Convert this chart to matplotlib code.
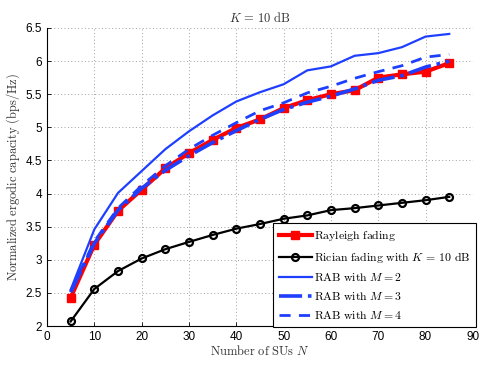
import matplotlib
matplotlib.use('Agg')
import matplotlib.pyplot as plt

plt.rcParams['mathtext.fontset'] = 'cm'
plt.rcParams['font.family'] = ['Liberation Sans', 'DejaVu Sans']

# number of SUs
n_sus = [5, 10, 15, 20, 25, 30, 35, 40, 45, 50, 55, 60, 65, 70, 75, 80, 85]

rayleigh = [2.43, 3.23, 3.74, 4.06, 4.38, 4.61, 4.81, 4.99, 5.12, 5.29, 5.41, 5.50, 5.56, 5.75, 5.80, 5.84, 5.97]
rician = [2.07, 2.56, 2.83, 3.02, 3.16, 3.27, 3.375, 3.47, 3.54, 3.62, 3.67, 3.75, 3.78, 3.82, 3.86, 3.90, 3.95]
rab_m2 = [2.55, 3.46, 4.01, 4.34, 4.67, 4.94, 5.18, 5.39, 5.53, 5.65, 5.86, 5.92, 6.08, 6.12, 6.21, 6.37, 6.41]
rab_m3 = [2.51, 3.25, 3.75, 4.08, 4.35, 4.57, 4.77, 4.95, 5.12, 5.27, 5.38, 5.47, 5.58, 5.71, 5.78, 5.91, 6.00]
rab_m4 = [2.53, 3.28, 3.78, 4.12, 4.42, 4.67, 4.88, 5.07, 5.25, 5.37, 5.52, 5.62, 5.74, 5.84, 5.93, 6.06, 6.10]

xticks = [0, 10, 20, 30, 40, 50, 60, 70, 80, 90]
yticks = [2, 2.5, 3, 3.5, 4, 4.5, 5, 5.5, 6, 6.5]

blue = '#1f3fff'

fig = plt.figure(figsize=(4.85, 3.68), dpi=100)
ax = fig.add_axes([0.097, 0.114, 0.878, 0.81])

ax.plot(n_sus, rayleigh, '-s', color='red', lw=3, ms=6, mfc='red', mec='red',
        label=r'$\mathrm{Rayleigh\ fading}$', zorder=3)
ax.plot(n_sus, rician, '-o', color='black', lw=1.6, ms=5, mfc='none', mec='black', mew=1.6,
        label=r'$\mathrm{Rician\ fading\ with}\ K\,=\,10\ \mathrm{dB}$', zorder=3)
ax.plot(n_sus, rab_m2, '-', color=blue, lw=1.6, label=r'$\mathrm{RAB\ with}\ M=2$', zorder=4)
ax.plot(n_sus, rab_m3, '-.', color=blue, lw=2.6, label=r'$\mathrm{RAB\ with}\ M=3$', zorder=4)
ax.plot(n_sus, rab_m4, '--', color=blue, lw=2.0, dashes=(4, 3), label=r'$\mathrm{RAB\ with}\ M=4$', zorder=4)

ax.set_xlim(0, 90)
ax.set_ylim(2, 6.5)
ax.set_xticks(xticks)
ax.set_yticks(yticks)
ax.set_yticklabels([('%g' % v) for v in yticks])
ax.tick_params(direction='in', labelsize=8.5, length=3, width=0.6)
ax.grid(True, linestyle=(0, (1, 2.5)), color='#a0a0a0', lw=0.7)
ax.spines['top'].set_visible(False)
ax.spines['right'].set_visible(False)
for s in ['left', 'bottom']:
    ax.spines[s].set_linewidth(0.8)

ax.set_xlabel(r'$\mathrm{Number\ of\ SUs}\ N$', fontsize=9, labelpad=1, color='#333333')
ax.set_ylabel(r'$\mathrm{Normalized\ ergodic\ capacity\ (bps/Hz)}$', fontsize=9, labelpad=3, color='#333333')
ax.set_title(r'$K\,=\,10\ \mathrm{dB}$', fontsize=9, pad=4, color='#333333')

leg = ax.legend(loc='lower right', bbox_to_anchor=(0.981, 0.111), bbox_transform=fig.transFigure,
                borderaxespad=0, fontsize=8.5, handlelength=2.8, labelspacing=0.58,
                fancybox=False, framealpha=1, edgecolor='black', handletextpad=0.2,
                borderpad=0.45)
leg.get_frame().set_linewidth(0.8)
leg.set_zorder(10)

fig.savefig('out.png', dpi=100)
